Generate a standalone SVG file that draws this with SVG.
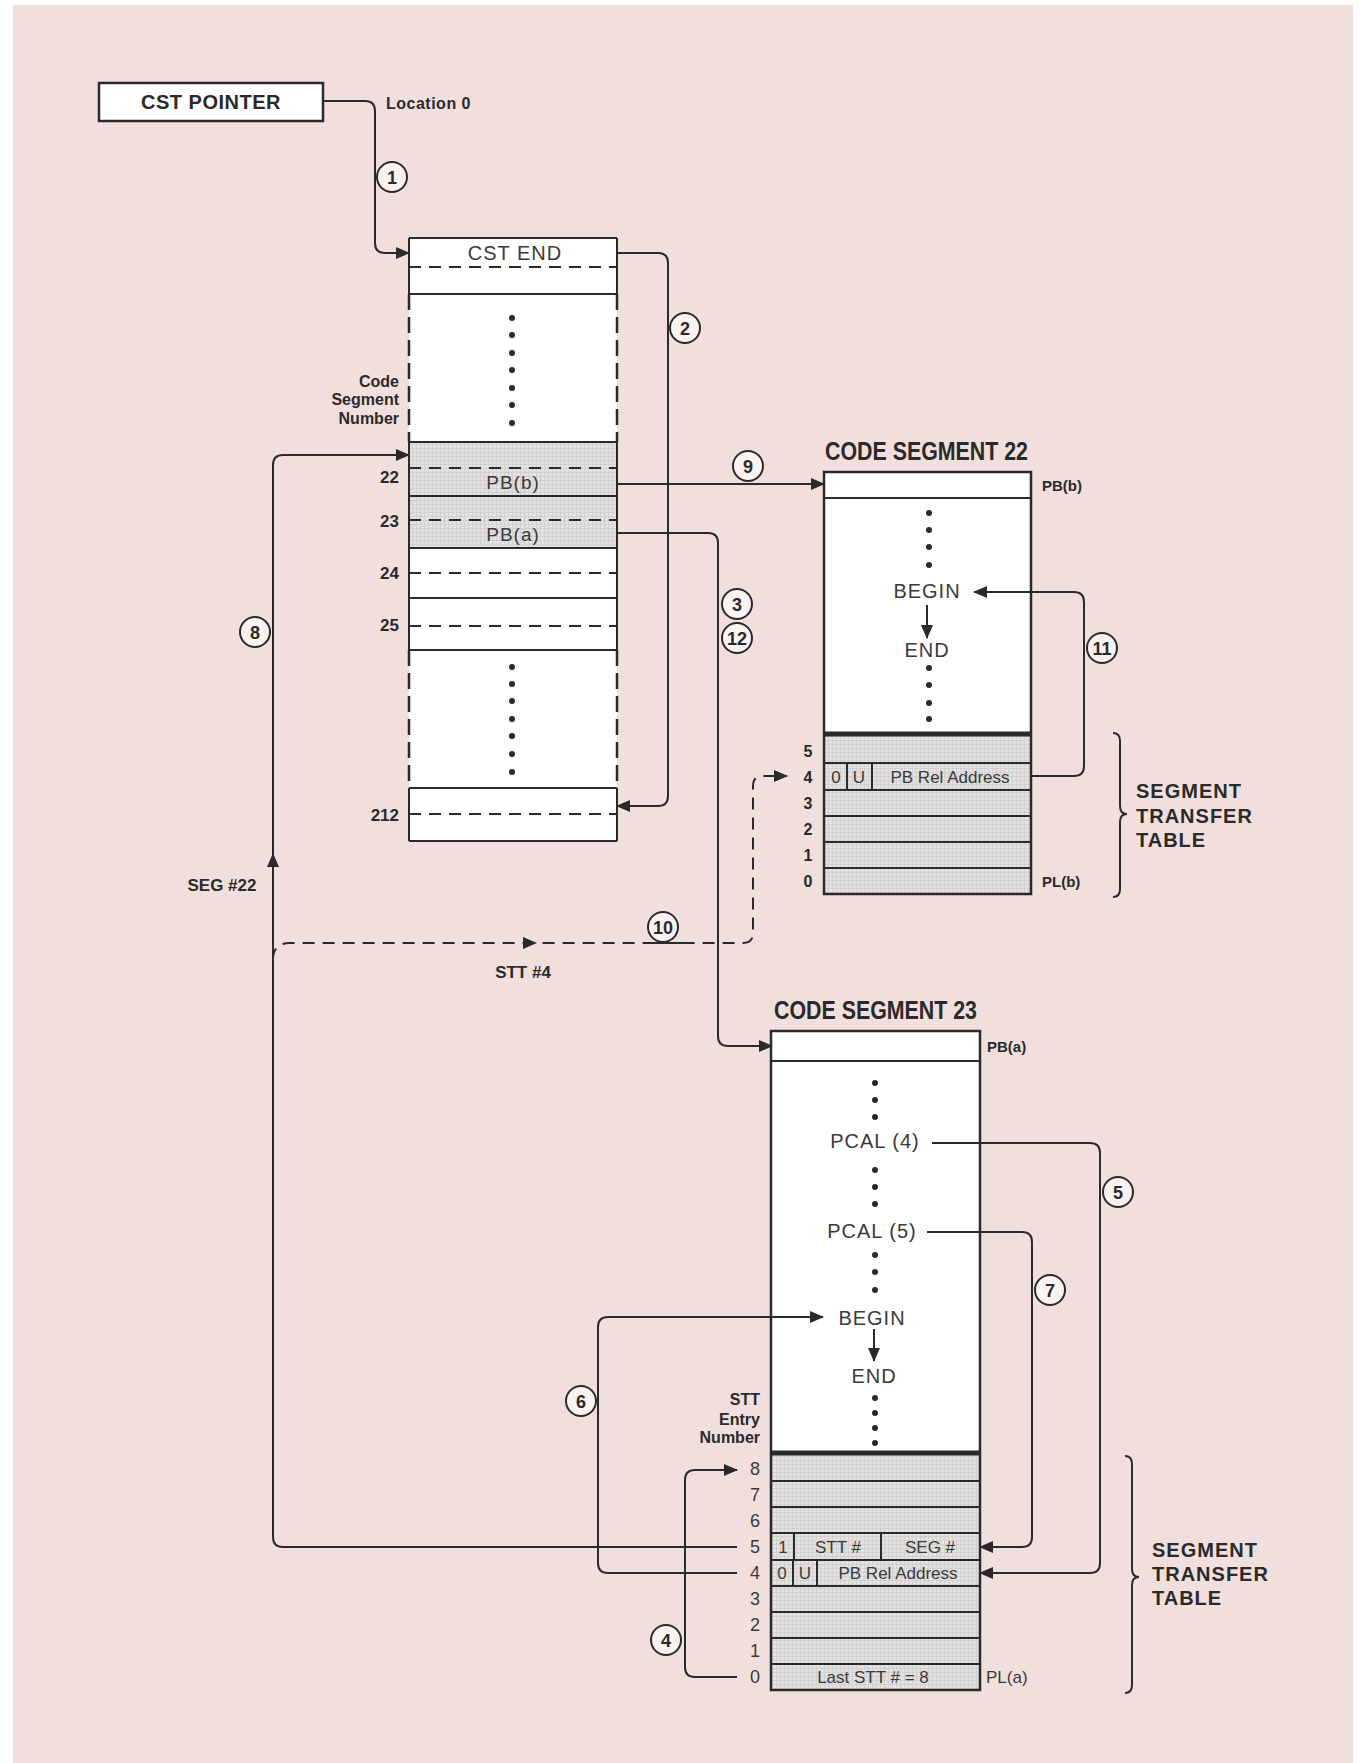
<svg xmlns="http://www.w3.org/2000/svg" width="1363" height="1763" viewBox="0 0 1363 1763">
<style>
.bg{fill:#f1dfdd}
.box{fill:#ffffff;stroke:#2a2a2a;stroke-width:2.5}
.ln{fill:none;stroke:#2a2a2a;stroke-width:2}
.dash{fill:none;stroke:#2a2a2a;stroke-width:2;stroke-dasharray:12 8}
.side{fill:none;stroke:#2a2a2a;stroke-width:2.5;stroke-dasharray:16 7}
.thick{stroke:#2a2a2a;stroke-width:5}
.shade{fill:url(#grid)}
.lbl{font-family:"Liberation Sans",Arial,sans-serif;font-weight:bold;fill:#2a2a2a}
.in{font-family:"Liberation Sans",Arial,sans-serif;fill:#3a3a3a}
.big{font-size:20px;letter-spacing:1px}
.cell{font-size:17px}
.ttl{font-family:"Liberation Sans Narrow","Liberation Sans",Arial,sans-serif;font-weight:bold;fill:#2a2a2a;font-size:25px}
.num{font-family:"Liberation Sans Narrow","Liberation Sans",Arial,sans-serif;font-weight:bold;fill:#2a2a2a;font-size:18px;text-anchor:middle}
.circ{fill:#fbf2f1;stroke:#2a2a2a;stroke-width:2}
.dot{fill:#2a2a2a}
.mid{text-anchor:middle}
.end{text-anchor:end}
.stt{font-size:20px;letter-spacing:1px}
</style>
<defs>
<pattern id="grid" width="4" height="4" patternUnits="userSpaceOnUse">
<rect width="4" height="4" fill="#e3e1e1"/>
<path d="M0,0.5H4M0.5,0V4" stroke="#d0cdcd" stroke-width="0.8"/>
</pattern>
<marker id="ah" markerWidth="14" markerHeight="12" refX="13" refY="6" orient="auto" markerUnits="userSpaceOnUse">
<path d="M0,0 L14,6 L0,12 z" fill="#2a2a2a"/>
</marker>
</defs>
<rect x="0" y="0" width="1363" height="1763" fill="#ffffff"/>
<rect class="bg" x="13" y="5" width="1340" height="1758"/>

<g id="cst-pointer">
<rect class="box" x="99" y="83" width="224" height="38"/>
<text class="lbl mid" x="211" y="109" font-size="20" letter-spacing="0.5">CST POINTER</text>
<text class="lbl" x="386" y="109" font-size="16" letter-spacing="0.5">Location 0</text>
</g>

<g id="cst-table">
<rect x="409" y="238" width="208" height="603" fill="#ffffff"/>
<rect class="shade" x="409" y="442" width="208" height="106"/>
<path class="ln" d="M409,238H617M409,841H617"/>
<path class="ln" stroke-width="2.5" d="M409,238V294M617,238V294M409,442V650M617,442V650M409,788V841M617,788V841"/>
<path class="side" d="M409,294V442M617,294V442M409,650V788M617,650V788"/>
<path class="ln" d="M409,294H617M409,442H617M409,496H617M409,548H617M409,598H617M409,650H617M409,788H617"/>
<path class="dash" d="M409,267H617M409,468H617M409,520H617M409,573H617M409,626H617M409,814H617"/>
<text class="in mid big" x="515" y="260">CST END</text>
<text class="in mid" x="513" y="489" font-size="19" letter-spacing="1">PB(b)</text>
<text class="in mid" x="513" y="541" font-size="19" letter-spacing="1">PB(a)</text>
<g class="dot">
<circle cx="512" cy="318" r="3"/><circle cx="512" cy="335" r="3"/><circle cx="512" cy="353" r="3"/><circle cx="512" cy="370" r="3"/><circle cx="512" cy="388" r="3"/><circle cx="512" cy="405" r="3"/><circle cx="512" cy="423" r="3"/>
<circle cx="512" cy="667" r="3"/><circle cx="512" cy="684" r="3"/><circle cx="512" cy="701" r="3"/><circle cx="512" cy="719" r="3"/><circle cx="512" cy="736" r="3"/><circle cx="512" cy="754" r="3"/><circle cx="512" cy="772" r="3"/>
</g>
<text class="lbl end" x="399" y="387" font-size="16">Code</text>
<text class="lbl end" x="399" y="405" font-size="16">Segment</text>
<text class="lbl end" x="399" y="424" font-size="16">Number</text>
<text class="lbl end" x="399" y="483" font-size="17">22</text>
<text class="lbl end" x="399" y="527" font-size="17">23</text>
<text class="lbl end" x="399" y="579" font-size="17">24</text>
<text class="lbl end" x="399" y="631" font-size="17">25</text>
<text class="lbl end" x="399" y="821" font-size="17">212</text>
</g>

<g id="code-segment-22">
<text class="ttl" x="825" y="460" textLength="203" lengthAdjust="spacingAndGlyphs">CODE SEGMENT 22</text>
<rect x="824" y="472" width="207" height="422" fill="#ffffff"/>
<rect class="shade" x="824" y="736" width="207" height="158"/>
<rect x="824" y="472" width="207" height="422" fill="none" stroke="#2a2a2a" stroke-width="2.5"/>
<path class="ln" d="M824,498H1031M824,763H1031M824,790H1031M824,816H1031M824,842H1031M824,868H1031M847,763V790M872,763V790"/>
<line class="thick" x1="824" y1="734" x2="1031" y2="734"/>
<g class="dot">
<circle cx="929" cy="513" r="3"/><circle cx="929" cy="530" r="3"/><circle cx="929" cy="547" r="3"/><circle cx="929" cy="565" r="3"/>
<circle cx="929" cy="668" r="3"/><circle cx="929" cy="685" r="3"/><circle cx="929" cy="703" r="3"/><circle cx="929" cy="719" r="3"/>
</g>
<text class="in mid big" x="927" y="598">BEGIN</text>
<line class="ln" x1="927" y1="605" x2="927" y2="638" marker-end="url(#ah)"/>
<text class="in mid big" x="927" y="657">END</text>
<text class="in mid cell" x="836" y="783">0</text>
<text class="in mid cell" x="859" y="783">U</text>
<text class="in mid cell" x="950" y="783">PB Rel Address</text>
<text class="lbl mid" x="808" y="757" font-size="16">5</text>
<text class="lbl mid" x="808" y="783" font-size="16">4</text>
<text class="lbl mid" x="808" y="809" font-size="16">3</text>
<text class="lbl mid" x="808" y="835" font-size="16">2</text>
<text class="lbl mid" x="808" y="861" font-size="16">1</text>
<text class="lbl mid" x="808" y="887" font-size="16">0</text>
<text class="lbl" x="1042" y="491" font-size="15">PB(b)</text>
<text class="lbl" x="1042" y="887" font-size="15">PL(b)</text>
<path class="ln" d="M1113,733Q1120,733 1120,741V806Q1120,814 1127,814Q1120,814 1120,822V889Q1120,897 1113,897"/>
<text class="lbl stt" x="1136" y="798">SEGMENT</text>
<text class="lbl stt" x="1136" y="823">TRANSFER</text>
<text class="lbl stt" x="1136" y="847">TABLE</text>
</g>

<g id="code-segment-23">
<text class="ttl" x="774" y="1019" textLength="203" lengthAdjust="spacingAndGlyphs">CODE SEGMENT 23</text>
<rect x="771" y="1031" width="209" height="659" fill="#ffffff"/>
<rect class="shade" x="771" y="1455" width="209" height="235"/>
<rect x="771" y="1031" width="209" height="659" fill="none" stroke="#2a2a2a" stroke-width="2.5"/>
<path class="ln" d="M771,1061H980M771,1481H980M771,1507H980M771,1533H980M771,1560H980M771,1586H980M771,1612H980M771,1638H980M771,1664H980M794,1533V1560M881,1533V1560M793,1560V1586M817,1560V1586"/>
<line class="thick" x1="771" y1="1453" x2="980" y2="1453"/>
<g class="dot">
<circle cx="875" cy="1083" r="3"/><circle cx="875" cy="1100" r="3"/><circle cx="875" cy="1117" r="3"/>
<circle cx="875" cy="1170" r="3"/><circle cx="875" cy="1187" r="3"/><circle cx="875" cy="1204" r="3"/>
<circle cx="875" cy="1255" r="3"/><circle cx="875" cy="1272" r="3"/><circle cx="875" cy="1290" r="3"/>
<circle cx="875" cy="1398" r="3"/><circle cx="875" cy="1413" r="3"/><circle cx="875" cy="1428" r="3"/><circle cx="875" cy="1443" r="3"/>
</g>
<text class="in mid big" x="875" y="1148">PCAL (4)</text>
<text class="in mid big" x="872" y="1238">PCAL (5)</text>
<text class="in mid big" x="872" y="1325">BEGIN</text>
<line class="ln" x1="874" y1="1329" x2="874" y2="1361" marker-end="url(#ah)"/>
<text class="in mid big" x="874" y="1383">END</text>
<text class="in mid cell" x="783" y="1553">1</text>
<text class="in mid cell" x="838" y="1553">STT #</text>
<text class="in mid cell" x="930" y="1553">SEG #</text>
<text class="in mid cell" x="782" y="1579">0</text>
<text class="in mid cell" x="805" y="1579">U</text>
<text class="in mid cell" x="898" y="1579">PB Rel Address</text>
<text class="in mid cell" x="873" y="1683">Last STT # = 8</text>
<text class="lbl end" x="760" y="1405" font-size="16">STT</text>
<text class="lbl end" x="760" y="1425" font-size="16">Entry</text>
<text class="lbl end" x="760" y="1443" font-size="16">Number</text>
<text class="in mid" x="755" y="1475" font-size="18">8</text>
<text class="in mid" x="755" y="1501" font-size="18">7</text>
<text class="in mid" x="755" y="1527" font-size="18">6</text>
<text class="in mid" x="755" y="1553" font-size="18">5</text>
<text class="in mid" x="755" y="1579" font-size="18">4</text>
<text class="in mid" x="755" y="1605" font-size="18">3</text>
<text class="in mid" x="755" y="1631" font-size="18">2</text>
<text class="in mid" x="755" y="1657" font-size="18">1</text>
<text class="in mid" x="755" y="1683" font-size="18">0</text>
<text class="lbl" x="987" y="1052" font-size="15">PB(a)</text>
<text class="in" x="986" y="1683" font-size="17">PL(a)</text>
<path class="ln" d="M1125,1456Q1132,1456 1132,1464V1569Q1132,1577 1139,1577Q1132,1577 1132,1585V1685Q1132,1693 1125,1693"/>
<text class="lbl stt" x="1152" y="1557">SEGMENT</text>
<text class="lbl stt" x="1152" y="1581">TRANSFER</text>
<text class="lbl stt" x="1152" y="1605">TABLE</text>
</g>

<g id="connectors">
<path class="ln" d="M323,101H365Q375,101 375,111V243Q375,253 385,253H409" marker-end="url(#ah)"/>
<path class="ln" d="M617,253H658Q668,253 668,263V796Q668,806 658,806H617" marker-end="url(#ah)"/>
<path class="ln" d="M617,484H824" marker-end="url(#ah)"/>
<path class="ln" d="M617,533H708Q718,533 718,543V1036Q718,1046 728,1046H772" marker-end="url(#ah)"/>
<path class="ln" d="M737,1547H283Q273,1547 273,1537V465Q273,455 283,455H409" marker-end="url(#ah)"/>
<path d="M273,853L279,867H267z" fill="#2a2a2a"/>
<path class="dash" d="M273,960Q273,943 290,943H743Q753,943 753,933V786Q753,776 763,776H787" marker-end="url(#ah)"/>
<path d="M537,943L523,937V949z" fill="#2a2a2a"/>
<path class="ln" d="M1031,776H1074Q1084,776 1084,766V602Q1084,592 1074,592H974" marker-end="url(#ah)"/>
<path class="ln" d="M932,1143H1090Q1100,1143 1100,1153V1563Q1100,1573 1090,1573H980" marker-end="url(#ah)"/>
<path class="ln" d="M927,1232H1022Q1032,1232 1032,1242V1537Q1032,1547 1022,1547H980" marker-end="url(#ah)"/>
<path class="ln" d="M737,1573H608Q598,1573 598,1563V1327Q598,1317 608,1317H823" marker-end="url(#ah)"/>
<path class="ln" d="M737,1677H695Q685,1677 685,1667V1480Q685,1470 695,1470H737" marker-end="url(#ah)"/>
</g>

<g id="step-labels">
<circle class="circ" cx="392" cy="177" r="15"/><text class="num" x="392" y="184">1</text>
<circle class="circ" cx="685" cy="328" r="15"/><text class="num" x="685" y="335">2</text>
<circle class="circ" cx="737" cy="604" r="15"/><text class="num" x="737" y="611">3</text>
<circle class="circ" cx="666" cy="1640" r="15"/><text class="num" x="666" y="1647">4</text>
<circle class="circ" cx="1118" cy="1192" r="15"/><text class="num" x="1118" y="1199">5</text>
<circle class="circ" cx="581" cy="1401" r="15"/><text class="num" x="581" y="1408">6</text>
<circle class="circ" cx="1050" cy="1290" r="15"/><text class="num" x="1050" y="1297">7</text>
<circle class="circ" cx="255" cy="632" r="15"/><text class="num" x="255" y="639">8</text>
<circle class="circ" cx="748" cy="466" r="15"/><text class="num" x="748" y="473">9</text>
<line class="ln" x1="643" y1="943" x2="685" y2="943"/>
<circle class="circ" cx="663" cy="927" r="15"/><text class="num" x="663" y="934">10</text>
<circle class="circ" cx="1102" cy="648" r="15"/><text class="num" x="1102" y="655">11</text>
<circle class="circ" cx="737" cy="638" r="15"/><text class="num" x="737" y="645">12</text>
<text class="lbl mid" x="222" y="891" font-size="17">SEG #22</text>
<text class="lbl mid" x="523" y="978" font-size="17">STT #4</text>
</g>
</svg>
